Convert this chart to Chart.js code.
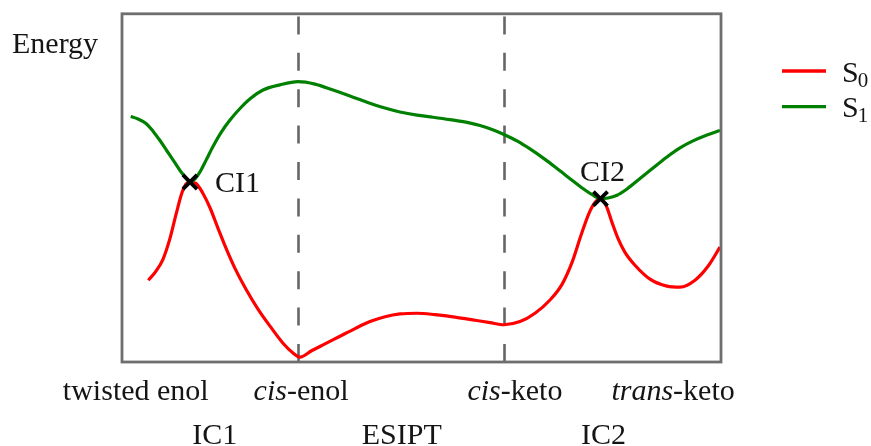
<!DOCTYPE html>
<html>
<head>
<meta charset="utf-8">
<script src="https://cdn.jsdelivr.net/npm/chart.js@4.4.0/dist/chart.umd.min.js"></script>
<style>
  html, body { margin: 0; padding: 0; background: #fff; }
  canvas { display: block; }
</style>
</head>
<body>
<canvas id="c" width="871" height="446"></canvas>
<script>
// Potential energy profiles along the reaction coordinate (arbitrary units, 0-100)
const s0X = [4.39, 5.68, 6.84, 8.01, 9.02, 10.02, 10.68, 11.35, 12.35, 13.52, 14.69, 16.03, 17.36, 18.86,
             20.70, 22.70, 24.71, 26.88, 28.55, 29.72, 31.72, 33.89, 36.39, 38.90, 41.40, 43.91, 46.41,
             49.25, 52.25, 55.59, 58.93, 61.44, 63.77, 66.44, 68.95, 71.45, 73.46, 75.13, 76.63, 77.96,
             78.96, 79.88, 80.80, 81.80, 82.80, 83.97, 85.64, 88.15, 90.98, 93.16, 95.66, 97.83, 99.83];
const s0Y = [23.5, 26.1, 29.5, 35.5, 42.4, 48.7, 51.1, 51.7, 51.3, 48.4, 44.3, 38.4, 32.7, 26.9,
             20.9, 15.2, 10.3, 5.4, 2.6, 1.4, 3.3, 5.2, 7.4, 9.6, 11.6, 13.0, 13.8,
             14.0, 13.6, 12.9, 12.0, 11.3, 10.7, 11.6, 14.0, 17.8, 22.3, 28.6, 36.4, 42.7,
             45.8, 46.9, 45.0, 40.1, 35.5, 31.5, 27.8, 23.8, 21.8, 21.5, 23.5, 27.5, 33.0];

const s1X = [1.45, 2.67, 4.01, 5.18, 6.34, 7.51, 8.68, 9.68, 10.52, 11.35, 12.19, 13.02, 14.02, 15.19,
             16.53, 18.03, 19.70, 21.54, 23.54, 26.38, 29.38, 32.22, 35.23, 38.06, 40.90, 43.74, 46.41,
             49.25, 51.92, 54.76, 57.60, 59.77, 61.77, 63.94, 65.94, 68.11, 70.62, 73.12, 75.29, 77.30,
             78.63, 79.88, 81.14, 82.64, 84.31, 86.48, 88.65, 90.98, 93.16, 95.33, 97.66, 99.83];
const s1Y = [70.5, 69.8, 68.5, 66.3, 63.6, 60.6, 57.6, 55.0, 53.2, 51.7, 52.6, 54.6, 57.9, 61.9,
             65.9, 69.5, 72.8, 75.8, 78.1, 79.6, 80.5, 79.8, 78.1, 76.4, 74.6, 73.0, 71.8,
             70.9, 70.3, 69.6, 68.8, 67.9, 66.8, 65.2, 63.5, 61.2, 58.2, 54.9, 52.0, 49.4,
             47.9, 46.9, 47.1, 47.9, 49.7, 52.7, 55.7, 58.9, 61.5, 63.5, 65.2, 66.5];

// Conical intersections
const ciX = [11.35, 79.88];
const ciY = [51.7, 46.9];
const ciNames = ['CI1', 'CI2'];

// Region dividers and axis annotations (*...* marks italic text)
const dividerX = [29.38, 63.77];
const stateNames = ['twisted enol', '*cis*-enol', '*cis*-keto', '*trans*-keto'];
const statePos = [2.3, 29.9, 65.6, 92.0];
const processNames = ['IC1', 'ESIPT', 'IC2'];
const processPos = [15.5, 46.7, 80.4];

// Series legend entries: symbol and subscript
const seriesSymbol = ['S', 'S'];
const seriesSub = ['0', '1'];
const seriesColors = ['#ff0000', '#008000'];

const FONT = '"Liberation Serif", "Times New Roman", serif';
const TEXT = '#151515';
const SIZE = 30;

const toPoints = (xs, ys) => xs.map((x, i) => ({ x, y: ys[i] }));

function parseRich(str) {
  const parts = str.split('*');
  return parts.map((t, i) => ({ t, it: i % 2 === 1 })).filter(p => p.t.length);
}

function drawRich(ctx, str, cx, baseline, size) {
  const segs = parseRich(str);
  let total = 0;
  segs.forEach(s => {
    ctx.font = (s.it ? 'italic ' : '') + size + 'px ' + FONT;
    s.w = ctx.measureText(s.t).width;
    total += s.w;
  });
  let x = cx - total / 2;
  ctx.textAlign = 'left';
  ctx.textBaseline = 'alphabetic';
  segs.forEach(s => {
    ctx.font = (s.it ? 'italic ' : '') + size + 'px ' + FONT;
    ctx.fillText(s.t, x, baseline);
    x += s.w;
  });
}

const decorations = {
  id: 'decorations',
  beforeDatasetsDraw(chart) {
    const { ctx, chartArea: a, scales } = chart;
    ctx.save();
    ctx.strokeStyle = '#666666';
    ctx.lineWidth = 2.6;
    ctx.setLineDash([18, 18.4]);
    dividerX.forEach(v => {
      const px = Math.round(scales.x.getPixelForValue(v)) + 0.5;
      ctx.beginPath();
      ctx.moveTo(px, a.bottom);
      ctx.lineTo(px, a.top);
      ctx.stroke();
    });
    ctx.restore();
  },
  afterDatasetsDraw(chart) {
    const { ctx, chartArea: a, scales } = chart;
    ctx.save();
    // frame
    ctx.strokeStyle = '#6e6e6e';
    ctx.lineWidth = 2.8;
    ctx.strokeRect(a.left, a.top, a.right - a.left, a.bottom - a.top);

    ctx.fillStyle = TEXT;
    // y-axis caption
    ctx.font = SIZE + 'px ' + FONT;
    ctx.textAlign = 'left';
    ctx.textBaseline = 'alphabetic';
    ctx.fillText('Energy', 12, 53);

    // conical intersection labels
    ciNames.forEach((name, i) => {
      const px = scales.x.getPixelForValue(ciX[i]);
      const py = scales.y.getPixelForValue(ciY[i]);
      ctx.font = SIZE + 'px ' + FONT;
      if (i === 0) {
        ctx.textAlign = 'left';
        ctx.fillText(name, px + 25, py + 10.5);
      } else {
        ctx.textAlign = 'center';
        ctx.fillText(name, px + 2, py - 17.5);
      }
    });

    // state labels and process labels under the frame
    stateNames.forEach((s, i) => drawRich(ctx, s, scales.x.getPixelForValue(statePos[i]), 400, SIZE));
    processNames.forEach((s, i) => drawRich(ctx, s, scales.x.getPixelForValue(processPos[i]), 444, SIZE));

    // legend
    seriesSymbol.forEach((sym, i) => {
      const y = 71 + i * 35.7;
      ctx.strokeStyle = seriesColors[i];
      ctx.lineWidth = 3.3;
      ctx.setLineDash([]);
      ctx.beginPath();
      ctx.moveTo(782, y);
      ctx.lineTo(826, y);
      ctx.stroke();
      ctx.fillStyle = TEXT;
      ctx.textAlign = 'left';
      ctx.font = SIZE + 'px ' + FONT;
      ctx.fillText(sym, 842, y + 10.5);
      const w = ctx.measureText(sym).width;
      ctx.font = '21px ' + FONT;
      ctx.fillText(seriesSub[i], 842 + w - 1, y + 15.5);
    });
    ctx.restore();
  }
};

new Chart(document.getElementById('c'), {
  type: 'line',
  data: {
    datasets: [
      {
        label: 'CI',
        type: 'scatter',
        data: toPoints(ciX, ciY),
        pointStyle: 'crossRot',
        pointRadius: 10,
        pointBorderWidth: 3.8,
        borderColor: '#000',
        backgroundColor: '#000',
        pointBorderColor: '#000',
        showLine: false,
        order: 0
      },
      {
        label: 'S1',
        data: toPoints(s1X, s1Y),
        borderColor: seriesColors[1],
        borderWidth: 3.2,
        pointRadius: 0,
        cubicInterpolationMode: 'monotone',
        fill: false,
        order: 1
      },
      {
        label: 'S0',
        data: toPoints(s0X, s0Y),
        borderColor: seriesColors[0],
        borderWidth: 3.2,
        pointRadius: 0,
        cubicInterpolationMode: 'monotone',
        fill: false,
        order: 2
      }
    ]
  },
  options: {
    responsive: false,
    devicePixelRatio: 1,
    animation: false,
    layout: { padding: { left: 122, right: 150, top: 13, bottom: 84 } },
    plugins: { legend: { display: false }, tooltip: { enabled: false } },
    scales: {
      x: { type: 'linear', min: 0, max: 100, display: false },
      y: { type: 'linear', min: 0, max: 100, display: false }
    }
  },
  plugins: [decorations]
});
</script>
</body>
</html>
